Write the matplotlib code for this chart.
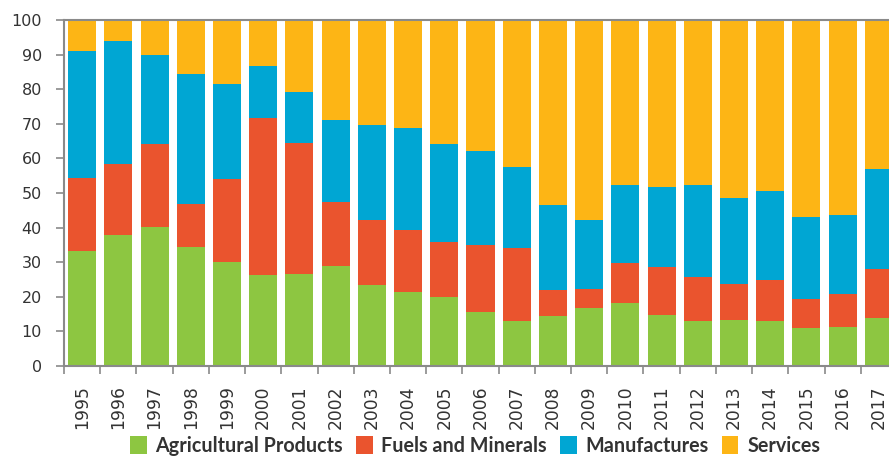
import matplotlib
matplotlib.use("Agg")
import matplotlib.pyplot as plt
import numpy as np

years = [str(y) for y in range(1995, 2018)]
agricultural = [33.2, 37.8, 40.1, 34.3, 30.0, 26.2, 26.5, 28.8, 23.3, 21.3, 19.9, 15.5,
                12.9, 14.4, 16.7, 18.1, 14.7, 12.9, 13.2, 12.9, 10.9, 11.2, 13.8]
fuels = [21.1, 20.6, 24.1, 12.5, 24.0, 45.5, 37.9, 18.6, 18.9, 18.0, 15.9, 19.4,
         21.2, 7.6, 5.5, 11.6, 13.8, 12.7, 10.5, 12.0, 8.4, 9.6, 14.1]
manufactures = [36.7, 35.4, 25.6, 37.5, 27.4, 14.9, 14.7, 23.6, 27.4, 29.4, 28.3, 27.2,
                23.3, 24.4, 19.9, 22.5, 23.1, 26.6, 24.8, 25.6, 23.7, 22.8, 29.0]
services = [9.0, 6.2, 10.2, 15.7, 18.6, 13.4, 20.9, 29.0, 30.4, 31.3, 35.9, 37.9,
            42.6, 53.6, 57.9, 47.8, 48.4, 47.8, 51.5, 49.5, 57.0, 56.4, 43.1]
series_names = ["Agricultural Products", "Fuels and Minerals", "Manufactures", "Services"]
y_ticks = [0, 10, 20, 30, 40, 50, 60, 70, 80, 90, 100]

colors = ["#8DC641", "#EA542E", "#00A6D3", "#FDB515"]
text_color = "#333333"
axis_color = "#8a8a8a"

fig = plt.figure(figsize=(8.89, 4.57), dpi=100)
ax = fig.add_axes([64 / 889, 1 - 366 / 457, (897 - 64) / 889, (366 - 20) / 457])

x = np.arange(len(years))
bottom = np.zeros(len(years))
handles = []
for vals, name, c in zip([agricultural, fuels, manufactures, services], series_names, colors):
    v = np.array(vals)
    h = ax.bar(x, v, bottom=bottom, width=0.775, color=c, label=name, linewidth=0, zorder=2)
    handles.append(h)
    bottom += v

ax.set_xlim(-0.5, len(years) - 0.5)
ax.set_ylim(0, 100)

for s in ["left", "bottom", "top"]:
    ax.spines[s].set_color(axis_color)
    ax.spines[s].set_linewidth(1.5)
ax.spines["right"].set_visible(False)
ax.spines["top"].set_zorder(3)

ax.set_yticks(y_ticks)
ax.set_yticklabels([str(t) for t in y_ticks], fontsize=11.5, color=text_color,
                   family=["DejaVu Sans"])
ax.tick_params(axis="y", length=6, width=1.2, color=axis_color, pad=10)

ax.set_xticks(x)
ax.set_xticklabels(years, rotation=90, fontsize=12.3, color=text_color,
                   family=["DejaVu Sans"], va="top", ha="center")
ax.tick_params(axis="x", which="major", length=0, pad=14)
ax.set_xticks(np.arange(-0.5, len(years), 1), minor=True)
ax.tick_params(axis="x", which="minor", length=6, width=1.2, color=axis_color)

leg = fig.legend(handles=handles, labels=series_names, loc="lower center",
                 bbox_to_anchor=(475 / 889, 0.0), ncol=4, frameon=False,
                 borderpad=0.05, borderaxespad=0.0,
                 handlelength=0.85, handleheight=1.0, handletextpad=0.45,
                 columnspacing=0.65,
                 prop={"family": "Lato", "weight": "bold", "size": 14.2})
for t in leg.get_texts():
    t.set_color(text_color)

fig.savefig("out.png", dpi=100)
